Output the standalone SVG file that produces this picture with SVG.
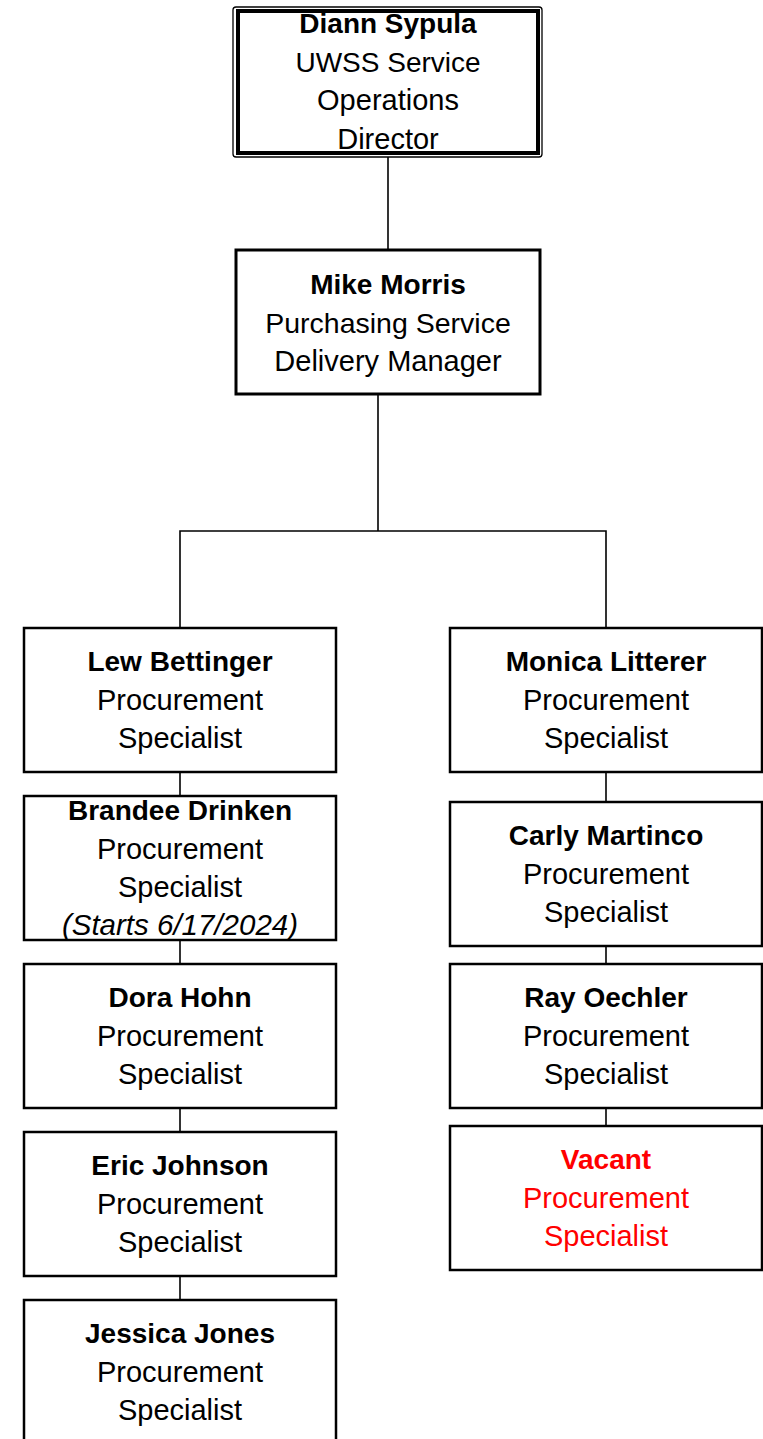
<svg xmlns="http://www.w3.org/2000/svg" width="763" height="1439" viewBox="0 0 763 1439">
<style>
text{font-family:"Liberation Sans",Arial,sans-serif;font-size:29px;text-anchor:middle;fill:#000}
.b{font-weight:bold;font-size:28px}
.i{font-style:italic;font-size:29.5px}
.red{fill:#FF0000}
.box{fill:#fff;stroke:#000;stroke-width:2.5}
.conn{stroke:#000;stroke-width:1.6;fill:none}
</style>
<rect width="763" height="1439" fill="#fff"/>
<g id="connectors">
<line class="conn" x1="388" y1="157" x2="388" y2="249"/>
<polyline class="conn" points="378,395 378,531"/>
<polyline class="conn" points="180,628 180,531 606,531 606,628"/>
<line class="conn" x1="180" y1="772" x2="180" y2="796"/>
<line class="conn" x1="180" y1="940" x2="180" y2="964"/>
<line class="conn" x1="180" y1="1108" x2="180" y2="1132"/>
<line class="conn" x1="180" y1="1276" x2="180" y2="1300"/>
<line class="conn" x1="606" y1="772" x2="606" y2="802"/>
<line class="conn" x1="606" y1="946" x2="606" y2="964"/>
<line class="conn" x1="606" y1="1108" x2="606" y2="1126"/>
</g>
<g id="diann">
<rect x="233" y="7" width="309" height="150" rx="3" fill="#fff" stroke="#000" stroke-width="1.3"/>
<rect x="238" y="11" width="300" height="142" fill="none" stroke="#000" stroke-width="4"/>
<text x="388" y="33" class="b">Diann Sypula</text>
<text x="388" y="72" style="font-size:28px">UWSS Service</text>
<text x="388" y="110">Operations</text>
<text x="388" y="149">Director</text>
</g>
<g id="mike">
<rect x="236" y="250" width="304" height="144" fill="#fff" stroke="#000" stroke-width="3"/>
<text x="388" y="294" class="b">Mike Morris</text>
<text x="388" y="333" style="font-size:28.5px">Purchasing Service</text>
<text x="388" y="371">Delivery Manager</text>
</g>
<g id="lew">
<rect class="box" x="24" y="628" width="312" height="144"/>
<text x="180" y="671" class="b">Lew Bettinger</text>
<text x="180" y="710">Procurement</text>
<text x="180" y="748">Specialist</text>
</g>
<g id="brandee">
<rect class="box" x="24" y="796" width="312" height="144"/>
<text x="180" y="820" class="b">Brandee Drinken</text>
<text x="180" y="859">Procurement</text>
<text x="180" y="897">Specialist</text>
<text x="180" y="935" class="i">(Starts 6/17/2024)</text>
</g>
<g id="dora">
<rect class="box" x="24" y="964" width="312" height="144"/>
<text x="180" y="1007" class="b">Dora Hohn</text>
<text x="180" y="1046">Procurement</text>
<text x="180" y="1084">Specialist</text>
</g>
<g id="eric">
<rect class="box" x="24" y="1132" width="312" height="144"/>
<text x="180" y="1175" class="b">Eric Johnson</text>
<text x="180" y="1214">Procurement</text>
<text x="180" y="1252">Specialist</text>
</g>
<g id="jessica">
<rect class="box" x="24" y="1300" width="312" height="150"/>
<text x="180" y="1343" class="b">Jessica Jones</text>
<text x="180" y="1382">Procurement</text>
<text x="180" y="1420">Specialist</text>
</g>
<g id="monica">
<rect class="box" x="450" y="628" width="312" height="144"/>
<text x="606" y="671" class="b">Monica Litterer</text>
<text x="606" y="710">Procurement</text>
<text x="606" y="748">Specialist</text>
</g>
<g id="carly">
<rect class="box" x="450" y="802" width="312" height="144"/>
<text x="606" y="845" class="b">Carly Martinco</text>
<text x="606" y="884">Procurement</text>
<text x="606" y="922">Specialist</text>
</g>
<g id="ray">
<rect class="box" x="450" y="964" width="312" height="144"/>
<text x="606" y="1007" class="b">Ray Oechler</text>
<text x="606" y="1046">Procurement</text>
<text x="606" y="1084">Specialist</text>
</g>
<g id="vacant">
<rect class="box" x="450" y="1126" width="312" height="144"/>
<text x="606" y="1169" class="b red">Vacant</text>
<text x="606" y="1208" class="red">Procurement</text>
<text x="606" y="1246" class="red">Specialist</text>
</g>
</svg>
